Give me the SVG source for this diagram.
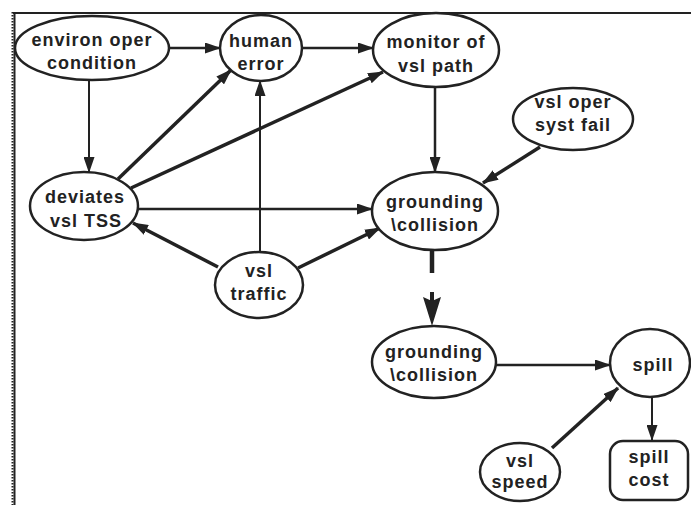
<svg xmlns="http://www.w3.org/2000/svg" width="691" height="505" viewBox="0 0 691 505">
  <style>
    .node ellipse, .node rect { fill: #fff; stroke: #222; stroke-width: 2.5; }
    .node text { font-family: "Liberation Sans", Arial, sans-serif; font-weight: bold; font-size: 18px; letter-spacing: 1px; fill: #222; text-anchor: middle; }
    .edge { stroke: #222; fill: none; marker-end: url(#arr); }
    .thin { stroke-width: 2; }
    .mid { stroke-width: 2.5; }
    .thick { stroke-width: 3.5; }
    .frame { stroke: #222; fill: none; }
  </style>
  <defs>
    <marker id="arr" viewBox="0 0 16 11" refX="15" refY="5.5" markerWidth="16" markerHeight="11" markerUnits="userSpaceOnUse" orient="auto">
      <path d="M0,0 L16,5.5 L0,11 z" fill="#222"/>
    </marker>
  </defs>
  <rect x="0" y="0" width="691" height="505" fill="#fff"/>

  <!-- page frame -->
  <g id="frame">
    <line class="frame" x1="13" y1="13" x2="691" y2="13" stroke-width="2"/>
    <line class="frame" x1="14.5" y1="12" x2="14.5" y2="505" stroke-width="2"/>
    <line class="frame" x1="12.5" y1="12" x2="12.5" y2="505" stroke-width="2" stroke-dasharray="1.5 1.5"/>
  </g>

  <!-- connectors -->
  <g id="connectors">
    <path class="edge mid" d="M168,48 L220,48"/>
    <path class="edge mid" d="M302,48 L373,48"/>
    <path class="edge thin" d="M89,80 L89,172"/>
    <path class="edge thick" d="M118,179 L231,70"/>
    <path class="edge thick" d="M131,188 L383,72"/>
    <path class="edge thin" d="M260,252 L260,81"/>
    <path class="edge mid" d="M435,88 L435,172"/>
    <path class="edge thick" d="M540,147 L483,183"/>
    <path class="edge mid" d="M138,209 L372,209"/>
    <path class="edge thick" d="M218,267 L133,223"/>
    <path class="edge thick" d="M298,268 L380,228"/>
    <g id="split-link">
      <line x1="432" y1="250" x2="432" y2="273" stroke="#222" stroke-width="4.5"/>
      <line x1="432" y1="292" x2="432" y2="302" stroke="#222" stroke-width="4"/>
      <polygon points="423,297 432,301 441,297 432,326" fill="#222"/>
    </g>
    <path class="edge mid" d="M497,365 L610,365"/>
    <path class="edge thick" d="M552,448 L618,388"/>
    <path class="edge thin" d="M652,397 L652,440"/>
  </g>

  <!-- nodes -->
  <g id="environ" class="node">
    <ellipse cx="92" cy="48" rx="77" ry="32"/>
    <text x="92" y="46">environ oper</text>
    <text x="92" y="69">condition</text>
  </g>
  <g id="human" class="node">
    <ellipse cx="261" cy="48" rx="41" ry="33"/>
    <text x="261" y="47">human</text>
    <text x="261" y="70">error</text>
  </g>
  <g id="monitor" class="node">
    <ellipse cx="436" cy="50" rx="63" ry="37"/>
    <text x="436" y="48">monitor of</text>
    <text x="436" y="72">vsl path</text>
  </g>
  <g id="vsloper" class="node">
    <ellipse cx="573" cy="119" rx="60" ry="31"/>
    <text x="573" y="108">vsl oper</text>
    <text x="573" y="131">syst fail</text>
  </g>
  <g id="deviates" class="node">
    <ellipse cx="84" cy="206" rx="54" ry="34"/>
    <text x="85" y="203">deviates</text>
    <text x="86" y="227">vsl TSS</text>
  </g>
  <g id="grounding1" class="node">
    <ellipse cx="435" cy="211" rx="63" ry="39"/>
    <text x="435" y="208">grounding</text>
    <text x="435" y="231">\collision</text>
  </g>
  <g id="traffic" class="node">
    <ellipse cx="259" cy="285" rx="44" ry="33"/>
    <text x="259" y="277">vsl</text>
    <text x="259" y="300">traffic</text>
  </g>
  <g id="grounding2" class="node">
    <ellipse cx="434" cy="362" rx="62" ry="36"/>
    <text x="434" y="358">grounding</text>
    <text x="434" y="381">\collision</text>
  </g>
  <g id="spill" class="node">
    <ellipse cx="650" cy="363" rx="40" ry="34"/>
    <text x="653" y="371">spill</text>
  </g>
  <g id="speed" class="node">
    <ellipse cx="520" cy="472" rx="40" ry="29"/>
    <text x="520" y="467">vsl</text>
    <text x="520" y="488">speed</text>
  </g>
  <g id="spillcost" class="node">
    <rect x="610" y="441" width="78" height="59" rx="13"/>
    <text x="649" y="463">spill</text>
    <text x="649" y="486">cost</text>
  </g>
</svg>
